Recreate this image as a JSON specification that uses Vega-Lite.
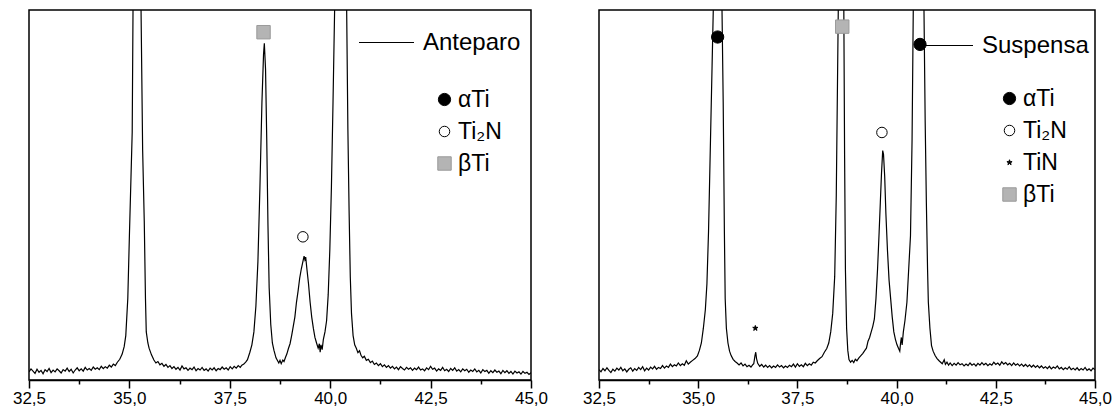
{
"$schema": "https://vega.github.io/schema/vega-lite/v6.json",
"padding": {"left": 11, "top": 9, "right": 5, "bottom": 0},
"spacing": 68,
"bounds": "flush",
"config": {
  "font": "Liberation Sans",
  "view": {"stroke": "black", "strokeWidth": 1.5},
  "legend": {"padding": 0, "titlePadding": 0, "labelColor": "black", "labelFont": "Liberation Sans", "labelFontSize": 23, "rowPadding": 8, "labelOffset": 2, "symbolStrokeWidth": 1}
},
"datasets": {
"ante": [
{"t":32.50,"i":2.2},{"t":32.55,"i":3.0},{"t":32.60,"i":2.4},{"t":32.65,"i":1.8},{"t":32.70,"i":2.9},{"t":32.75,"i":2.1},{"t":32.80,"i":2.6},{"t":32.85,"i":1.7},{"t":32.90,"i":2.8},{"t":32.95,"i":2.3},
{"t":33.00,"i":3.1},{"t":33.05,"i":2.0},{"t":33.10,"i":2.7},{"t":33.15,"i":2.2},{"t":33.20,"i":3.0},{"t":33.25,"i":2.5},{"t":33.30,"i":1.9},{"t":33.35,"i":2.8},{"t":33.40,"i":2.4},{"t":33.45,"i":3.2},
{"t":33.50,"i":2.3},{"t":33.55,"i":2.9},{"t":33.60,"i":1.9},{"t":33.65,"i":2.7},{"t":33.70,"i":3.3},{"t":33.75,"i":2.5},{"t":33.80,"i":3.0},{"t":33.85,"i":2.4},{"t":33.90,"i":3.4},{"t":33.95,"i":2.7},
{"t":34.00,"i":3.1},{"t":34.05,"i":2.6},{"t":34.10,"i":3.5},{"t":34.15,"i":2.9},{"t":34.20,"i":3.3},{"t":34.25,"i":2.8},{"t":34.30,"i":3.7},{"t":34.35,"i":3.1},{"t":34.40,"i":3.6},{"t":34.45,"i":3.2},
{"t":34.50,"i":4.0},{"t":34.55,"i":3.5},{"t":34.60,"i":4.3},{"t":34.65,"i":3.9},{"t":34.70,"i":4.8},{"t":34.76,"i":5.6},{"t":34.82,"i":7},{"t":34.87,"i":9},{"t":34.91,"i":12},{"t":34.96,"i":22},
{"t":35.00,"i":39},{"t":35.04,"i":55},{"t":35.07,"i":67},{"t":35.09,"i":100},{"t":35.19,"i":400},{"t":35.29,"i":100},{"t":35.33,"i":62},{"t":35.37,"i":43},{"t":35.40,"i":22},{"t":35.42,"i":13},
{"t":35.46,"i":10},{"t":35.49,"i":8.6},{"t":35.55,"i":6.8},{"t":35.61,"i":5.4},{"t":35.66,"i":4.6},{"t":35.71,"i":5.0},{"t":35.76,"i":4.1},{"t":35.81,"i":4.5},{"t":35.86,"i":3.7},{"t":35.91,"i":4.2},
{"t":35.96,"i":3.4},{"t":36.01,"i":3.9},{"t":36.06,"i":3.1},{"t":36.11,"i":3.6},{"t":36.16,"i":2.9},{"t":36.21,"i":3.4},{"t":36.26,"i":2.7},{"t":36.31,"i":3.8},{"t":36.36,"i":3.0},{"t":36.41,"i":3.3},
{"t":36.46,"i":2.6},{"t":36.51,"i":3.2},{"t":36.56,"i":2.8},{"t":36.61,"i":3.5},{"t":36.66,"i":2.5},{"t":36.71,"i":3.1},{"t":36.76,"i":2.7},{"t":36.81,"i":3.4},{"t":36.86,"i":2.6},{"t":36.91,"i":3.0},
{"t":36.96,"i":2.4},{"t":37.01,"i":3.2},{"t":37.06,"i":2.7},{"t":37.11,"i":3.3},{"t":37.16,"i":2.5},{"t":37.21,"i":3.1},{"t":37.26,"i":2.8},{"t":37.31,"i":3.5},{"t":37.36,"i":2.9},{"t":37.41,"i":3.3},
{"t":37.46,"i":2.7},{"t":37.51,"i":3.6},{"t":37.56,"i":3.0},{"t":37.61,"i":3.7},{"t":37.66,"i":3.2},{"t":37.71,"i":3.9},{"t":37.76,"i":3.4},{"t":37.80,"i":4.0},{"t":37.85,"i":4.3},{"t":37.90,"i":4.9},
{"t":37.94,"i":5.5},{"t":38.00,"i":7.5},{"t":38.05,"i":9.5},{"t":38.10,"i":13},{"t":38.15,"i":20},{"t":38.20,"i":32},{"t":38.25,"i":52},{"t":38.30,"i":75},{"t":38.34,"i":88},{"t":38.36,"i":91},
{"t":38.39,"i":84},{"t":38.42,"i":65},{"t":38.45,"i":42},{"t":38.48,"i":25},{"t":38.52,"i":15},{"t":38.56,"i":10},{"t":38.60,"i":8},{"t":38.65,"i":6},{"t":38.69,"i":5.2},{"t":38.72,"i":4.6},
{"t":38.75,"i":5.3},{"t":38.78,"i":4.4},{"t":38.82,"i":5.4},{"t":38.85,"i":5.0},{"t":38.89,"i":6.2},{"t":38.92,"i":7},{"t":38.96,"i":8.5},{"t":39.00,"i":9.8},{"t":39.04,"i":12},{"t":39.08,"i":14.5},
{"t":39.12,"i":17},{"t":39.16,"i":21},{"t":39.20,"i":24},{"t":39.24,"i":27.5},{"t":39.28,"i":30},{"t":39.32,"i":32},{"t":39.35,"i":33.5},{"t":39.37,"i":32.5},{"t":39.39,"i":33.2},{"t":39.42,"i":30},
{"t":39.46,"i":26},{"t":39.50,"i":21},{"t":39.54,"i":17},{"t":39.58,"i":14},{"t":39.62,"i":11.5},{"t":39.66,"i":10},{"t":39.70,"i":8.6},{"t":39.73,"i":9.8},{"t":39.75,"i":7.5},{"t":39.77,"i":9.5},
{"t":39.80,"i":8.2},{"t":39.83,"i":11},{"t":39.87,"i":13},{"t":39.91,"i":16},{"t":39.95,"i":23},{"t":39.99,"i":35},{"t":40.03,"i":52},{"t":40.07,"i":75},{"t":40.11,"i":100},{"t":40.26,"i":400},
{"t":40.41,"i":100},{"t":40.44,"i":68},{"t":40.47,"i":46},{"t":40.50,"i":28},{"t":40.53,"i":18},{"t":40.57,"i":12},{"t":40.61,"i":9.5},{"t":40.65,"i":8.6},{"t":40.69,"i":7.4},{"t":40.73,"i":7.9},
{"t":40.77,"i":6.6},{"t":40.81,"i":6.0},{"t":40.85,"i":6.4},{"t":40.90,"i":5.3},{"t":40.95,"i":5.6},{"t":41.00,"i":4.7},{"t":41.05,"i":5.1},{"t":41.10,"i":4.2},{"t":41.15,"i":4.6},{"t":41.20,"i":3.9},
{"t":41.25,"i":4.4},{"t":41.30,"i":3.6},{"t":41.35,"i":4.1},{"t":41.40,"i":3.4},{"t":41.45,"i":3.9},{"t":41.50,"i":3.2},{"t":41.55,"i":3.7},{"t":41.60,"i":3.0},{"t":41.65,"i":3.5},{"t":41.70,"i":2.8},
{"t":41.75,"i":3.6},{"t":41.80,"i":3.1},{"t":41.85,"i":2.7},{"t":41.90,"i":3.4},{"t":41.95,"i":2.9},{"t":42.00,"i":3.3},{"t":42.05,"i":2.6},{"t":42.10,"i":3.2},{"t":42.15,"i":2.8},{"t":42.20,"i":3.5},
{"t":42.25,"i":2.7},{"t":42.30,"i":3.0},{"t":42.35,"i":2.5},{"t":42.40,"i":3.3},{"t":42.45,"i":2.8},{"t":42.50,"i":3.7},{"t":42.55,"i":2.9},{"t":42.60,"i":3.2},{"t":42.65,"i":2.4},{"t":42.70,"i":3.0},
{"t":42.75,"i":2.6},{"t":42.80,"i":3.4},{"t":42.85,"i":2.5},{"t":42.90,"i":2.9},{"t":42.95,"i":2.3},{"t":43.00,"i":3.1},{"t":43.05,"i":2.6},{"t":43.10,"i":3.3},{"t":43.15,"i":2.4},{"t":43.20,"i":2.8},
{"t":43.25,"i":2.2},{"t":43.30,"i":3.0},{"t":43.35,"i":2.5},{"t":43.40,"i":2.9},{"t":43.45,"i":2.1},{"t":43.50,"i":2.7},{"t":43.55,"i":2.3},{"t":43.60,"i":3.0},{"t":43.65,"i":2.2},{"t":43.70,"i":2.6},
{"t":43.75,"i":1.9},{"t":43.80,"i":2.8},{"t":43.85,"i":2.3},{"t":43.90,"i":2.6},{"t":43.95,"i":1.8},{"t":44.00,"i":2.5},{"t":44.05,"i":2.0},{"t":44.10,"i":2.7},{"t":44.15,"i":2.1},{"t":44.20,"i":2.4},
{"t":44.25,"i":1.7},{"t":44.30,"i":2.6},{"t":44.35,"i":2.0},{"t":44.40,"i":2.5},{"t":44.45,"i":1.8},{"t":44.50,"i":2.3},{"t":44.55,"i":1.6},{"t":44.60,"i":2.4},{"t":44.65,"i":1.9},{"t":44.70,"i":2.2},
{"t":44.75,"i":1.6},{"t":44.80,"i":2.3},{"t":44.85,"i":1.8},{"t":44.90,"i":2.1},{"t":44.95,"i":1.5},{"t":45.00,"i":2.0}
],
"susp": [
{"t":32.50,"i":2.8},{"t":32.55,"i":2.2},{"t":32.60,"i":3.1},{"t":32.65,"i":2.5},{"t":32.70,"i":3.3},{"t":32.75,"i":2.6},{"t":32.80,"i":2.0},{"t":32.85,"i":2.9},{"t":32.90,"i":2.4},{"t":32.95,"i":3.2},
{"t":33.00,"i":2.7},{"t":33.05,"i":3.4},{"t":33.10,"i":2.5},{"t":33.15,"i":3.0},{"t":33.20,"i":2.2},{"t":33.25,"i":2.9},{"t":33.30,"i":3.3},{"t":33.35,"i":2.4},{"t":33.40,"i":3.1},{"t":33.45,"i":2.6},
{"t":33.50,"i":3.4},{"t":33.55,"i":2.8},{"t":33.60,"i":3.6},{"t":33.65,"i":2.5},{"t":33.70,"i":3.2},{"t":33.75,"i":2.7},{"t":33.80,"i":3.5},{"t":33.85,"i":3.0},{"t":33.90,"i":3.7},{"t":33.95,"i":2.9},
{"t":34.00,"i":3.4},{"t":34.05,"i":3.1},{"t":34.10,"i":3.9},{"t":34.15,"i":3.2},{"t":34.20,"i":3.8},{"t":34.25,"i":3.4},{"t":34.30,"i":4.3},{"t":34.35,"i":3.6},{"t":34.40,"i":4.1},{"t":34.45,"i":3.8},
{"t":34.50,"i":4.6},{"t":34.55,"i":3.9},{"t":34.60,"i":4.4},{"t":34.65,"i":4.0},{"t":34.70,"i":5.2},{"t":34.75,"i":4.3},{"t":34.80,"i":4.8},{"t":34.86,"i":5.3},{"t":34.92,"i":5.8},{"t":34.98,"i":6.5},
{"t":35.03,"i":8},{"t":35.08,"i":10},{"t":35.13,"i":14},{"t":35.18,"i":19},{"t":35.22,"i":26},{"t":35.26,"i":40},{"t":35.31,"i":65},{"t":35.35,"i":85},{"t":35.38,"i":100},{"t":35.49,"i":400},
{"t":35.60,"i":100},{"t":35.63,"i":75},{"t":35.66,"i":40},{"t":35.68,"i":22},{"t":35.71,"i":14},{"t":35.75,"i":10},{"t":35.79,"i":7.8},{"t":35.83,"i":6.6},{"t":35.88,"i":5.6},{"t":35.93,"i":5.0},
{"t":35.98,"i":4.6},{"t":36.03,"i":4.1},{"t":36.08,"i":4.6},{"t":36.13,"i":3.8},{"t":36.18,"i":4.3},{"t":36.23,"i":3.6},{"t":36.28,"i":4.0},{"t":36.33,"i":3.5},{"t":36.38,"i":4.2},{"t":36.40,"i":4.4},
{"t":36.43,"i":6.5},{"t":36.45,"i":7.5},{"t":36.47,"i":5.8},{"t":36.50,"i":4.5},{"t":36.55,"i":3.7},{"t":36.60,"i":4.2},{"t":36.65,"i":3.5},{"t":36.70,"i":4.0},{"t":36.75,"i":3.4},{"t":36.80,"i":3.9},
{"t":36.85,"i":3.3},{"t":36.90,"i":3.8},{"t":36.95,"i":3.4},{"t":37.00,"i":4.1},{"t":37.05,"i":3.5},{"t":37.10,"i":3.9},{"t":37.15,"i":3.3},{"t":37.20,"i":3.8},{"t":37.25,"i":3.4},{"t":37.30,"i":4.0},
{"t":37.35,"i":3.6},{"t":37.40,"i":4.3},{"t":37.45,"i":3.5},{"t":37.50,"i":4.4},{"t":37.55,"i":3.7},{"t":37.60,"i":4.1},{"t":37.65,"i":3.6},{"t":37.70,"i":4.5},{"t":37.75,"i":3.9},{"t":37.80,"i":4.4},
{"t":37.85,"i":4.0},{"t":37.90,"i":4.8},{"t":37.95,"i":4.6},{"t":38.00,"i":5.2},{"t":38.06,"i":5.8},{"t":38.12,"i":6.3},{"t":38.18,"i":7.5},{"t":38.24,"i":8.5},{"t":38.29,"i":10},{"t":38.34,"i":13},
{"t":38.39,"i":18},{"t":38.44,"i":28},{"t":38.48,"i":50},{"t":38.51,"i":80},{"t":38.53,"i":100},{"t":38.60,"i":350},{"t":38.67,"i":100},{"t":38.69,"i":60},{"t":38.71,"i":30},{"t":38.74,"i":14},
{"t":38.77,"i":8},{"t":38.80,"i":5.5},{"t":38.84,"i":4.8},{"t":38.88,"i":5.3},{"t":38.92,"i":4.7},{"t":38.96,"i":5.6},{"t":39.00,"i":5.2},{"t":39.05,"i":6.0},{"t":39.10,"i":6.6},{"t":39.15,"i":7.2},
{"t":39.20,"i":8.0},{"t":39.24,"i":8.6},{"t":39.28,"i":10.5},{"t":39.32,"i":11.5},{"t":39.36,"i":13},{"t":39.40,"i":14.5},{"t":39.44,"i":16.5},{"t":39.48,"i":22},{"t":39.52,"i":30},{"t":39.56,"i":40},
{"t":39.59,"i":48},{"t":39.62,"i":56},{"t":39.65,"i":62},{"t":39.67,"i":61},{"t":39.70,"i":55},{"t":39.73,"i":45},{"t":39.77,"i":35},{"t":39.81,"i":27},{"t":39.85,"i":22},{"t":39.89,"i":17},
{"t":39.93,"i":13},{"t":39.97,"i":11},{"t":40.01,"i":9.5},{"t":40.05,"i":8.5},{"t":40.08,"i":7.8},{"t":40.10,"i":10},{"t":40.12,"i":11.5},{"t":40.14,"i":9.5},{"t":40.17,"i":13},{"t":40.21,"i":16},
{"t":40.26,"i":21},{"t":40.30,"i":29},{"t":40.35,"i":39},{"t":40.39,"i":65},{"t":40.42,"i":100},{"t":40.56,"i":400},{"t":40.69,"i":100},{"t":40.72,"i":70},{"t":40.75,"i":48},{"t":40.78,"i":30},
{"t":40.80,"i":21},{"t":40.84,"i":14},{"t":40.88,"i":9.3},{"t":40.92,"i":7.8},{"t":40.97,"i":6.6},{"t":41.02,"i":5.8},{"t":41.07,"i":5.2},{"t":41.11,"i":4.8},{"t":41.15,"i":4.4},{"t":41.20,"i":5.5},
{"t":41.23,"i":4.2},{"t":41.27,"i":4.8},{"t":41.31,"i":4.0},{"t":41.35,"i":4.6},{"t":41.40,"i":3.9},{"t":41.45,"i":4.5},{"t":41.50,"i":4.0},{"t":41.55,"i":4.7},{"t":41.60,"i":4.1},{"t":41.65,"i":4.4},
{"t":41.70,"i":3.8},{"t":41.75,"i":4.3},{"t":41.80,"i":3.9},{"t":41.85,"i":4.6},{"t":41.90,"i":4.0},{"t":41.95,"i":4.4},{"t":42.00,"i":3.8},{"t":42.05,"i":4.5},{"t":42.10,"i":4.0},{"t":42.15,"i":4.7},
{"t":42.20,"i":4.1},{"t":42.25,"i":4.5},{"t":42.30,"i":3.9},{"t":42.35,"i":4.4},{"t":42.40,"i":4.0},{"t":42.45,"i":4.8},{"t":42.50,"i":4.2},{"t":42.55,"i":4.6},{"t":42.60,"i":4.0},{"t":42.65,"i":4.9},
{"t":42.70,"i":4.3},{"t":42.75,"i":4.7},{"t":42.80,"i":4.1},{"t":42.85,"i":4.5},{"t":42.90,"i":3.9},{"t":42.95,"i":4.6},{"t":43.00,"i":4.0},{"t":43.05,"i":4.4},{"t":43.10,"i":3.8},{"t":43.15,"i":4.3},
{"t":43.20,"i":3.7},{"t":43.25,"i":4.2},{"t":43.30,"i":3.6},{"t":43.35,"i":4.1},{"t":43.40,"i":3.5},{"t":43.45,"i":4.0},{"t":43.50,"i":3.4},{"t":43.55,"i":3.9},{"t":43.60,"i":3.3},{"t":43.65,"i":3.8},
{"t":43.70,"i":3.2},{"t":43.75,"i":3.6},{"t":43.80,"i":3.1},{"t":43.85,"i":3.7},{"t":43.90,"i":3.0},{"t":43.95,"i":3.5},{"t":44.00,"i":3.2},{"t":44.05,"i":3.8},{"t":44.10,"i":3.0},{"t":44.15,"i":3.4},
{"t":44.20,"i":2.8},{"t":44.25,"i":3.3},{"t":44.30,"i":2.9},{"t":44.35,"i":3.6},{"t":44.40,"i":2.8},{"t":44.45,"i":3.2},{"t":44.50,"i":2.7},{"t":44.55,"i":3.3},{"t":44.60,"i":2.6},{"t":44.65,"i":3.1},
{"t":44.70,"i":2.7},{"t":44.75,"i":3.4},{"t":44.80,"i":2.6},{"t":44.85,"i":3.0},{"t":44.90,"i":2.5},{"t":44.95,"i":3.2},{"t":45.00,"i":2.8}
],
"mA": [
{"t":38.34,"i":94,"p":"βTi"},
{"t":39.32,"i":38.7,"p":"Ti₂N"}
],
"mB": [
{"t":35.49,"i":92.7,"p":"αTi"},
{"t":40.59,"i":90.7,"p":"αTi"},
{"t":38.63,"i":95.5,"p":"βTi"},
{"t":39.63,"i":66.9,"p":"Ti₂N"},
{"t":36.44,"i":14,"p":"TiN"}
]
},
"hconcat": [
{
  "width": 502, "height": 370,
  "resolve": {"axis": {"x": "independent"}},
  "layer": [
    {
      "data": {"name": "ante"},
      "mark": {"type": "line", "clip": true, "strokeWidth": 1.2, "interpolate": "linear"},
      "encoding": {
        "x": {"field": "t", "type": "quantitative", "scale": {"domain": [32.5, 45], "nice": false, "zero": false},
              "axis": {"values": [32.5,35,37.5,40,42.5,45], "labelExpr": "replace(format(datum.value,'.1f'),'.',',')", "title": null, "grid": false,
                       "tickSize": 8, "tickWidth": 1.5, "tickColor": "black", "domainColor": "black", "domainWidth": 1.5,
                       "labelFontSize": 17, "labelColor": "black", "labelPadding": 2, "labelFlush": false, "labelOverlap": false, "orient": "bottom"}},
        "y": {"field": "i", "type": "quantitative", "scale": {"domain": [0, 100], "nice": false, "zero": false}, "axis": null},
        "color": {"datum": "Anteparo", "scale": {"range": ["black"]},
                  "legend": {"title": null, "orient": "none", "legendX": 329, "legendY": 4, "symbolType": "stroke", "symbolSize": 3025, "symbolStrokeWidth": 1.2, "labelFontSize": 24, "labelOffset": 8}}
      }
    },
    {
      "data": {"name": "mA"},
      "mark": {"type": "point", "filled": false, "opacity": 1, "strokeWidth": 1},
      "encoding": {
        "x": {"field": "t", "type": "quantitative", "scale": {"domain": [32.5, 45], "nice": false, "zero": false},
              "axis": {"values": [33.75,36.25,38.75,41.25,43.75], "labels": false, "domain": false, "title": null, "grid": false, "tickSize": 4, "tickWidth": 1.5, "tickColor": "black", "orient": "bottom"}},
        "y": {"field": "i", "type": "quantitative", "scale": {"domain": [0, 100], "nice": false, "zero": false}, "axis": null},
        "shape": {"field": "p", "type": "nominal", "scale": {"domain": ["αTi","Ti₂N","βTi"], "range": ["circle","circle","square"]},
                  "legend": {"title": null, "orient": "none", "legendX": 404, "legendY": 78}},
        "fill": {"field": "p", "type": "nominal", "scale": {"domain": ["αTi","Ti₂N","βTi"], "range": ["black","white","#b4b4b4"]},
                  "legend": {"title": null, "orient": "none", "legendX": 404, "legendY": 78}},
        "stroke": {"field": "p", "type": "nominal", "scale": {"domain": ["αTi","Ti₂N","βTi"], "range": ["black","black","#9a9a9a"]},
                  "legend": {"title": null, "orient": "none", "legendX": 404, "legendY": 78}},
        "size": {"field": "p", "type": "nominal", "scale": {"type": "ordinal", "domain": ["αTi","Ti₂N","βTi"], "range": [150, 110, 180]},
                  "legend": {"title": null, "orient": "none", "legendX": 404, "legendY": 78}}
      }
    }
  ]
},
{
  "width": 496, "height": 370,
  "resolve": {"axis": {"x": "independent"}},
  "layer": [
    {
      "data": {"name": "susp"},
      "mark": {"type": "line", "clip": true, "strokeWidth": 1.2, "interpolate": "linear"},
      "encoding": {
        "x": {"field": "t", "type": "quantitative", "scale": {"domain": [32.5, 45], "nice": false, "zero": false},
              "axis": {"values": [32.5,35,37.5,40,42.5,45], "labelExpr": "replace(format(datum.value,'.1f'),'.',',')", "title": null, "grid": false,
                       "tickSize": 8, "tickWidth": 1.5, "tickColor": "black", "domainColor": "black", "domainWidth": 1.5,
                       "labelFontSize": 17, "labelColor": "black", "labelPadding": 2, "labelFlush": false, "labelOverlap": false, "orient": "bottom"}},
        "y": {"field": "i", "type": "quantitative", "scale": {"domain": [0, 100], "nice": false, "zero": false}, "axis": null},
        "color": {"datum": "Suspensa", "scale": {"range": ["black"]},
                  "legend": {"title": null, "orient": "none", "legendX": 318, "legendY": 7, "symbolType": "stroke", "symbolSize": 3025, "symbolStrokeWidth": 1.2, "labelFontSize": 24, "labelOffset": 8}}
      }
    },
    {
      "data": {"name": "mB"},
      "mark": {"type": "point", "filled": false, "opacity": 1, "strokeWidth": 1},
      "encoding": {
        "x": {"field": "t", "type": "quantitative", "scale": {"domain": [32.5, 45], "nice": false, "zero": false},
              "axis": {"values": [33.75,36.25,38.75,41.25,43.75], "labels": false, "domain": false, "title": null, "grid": false, "tickSize": 4, "tickWidth": 1.5, "tickColor": "black", "orient": "bottom"}},
        "y": {"field": "i", "type": "quantitative", "scale": {"domain": [0, 100], "nice": false, "zero": false}, "axis": null},
        "shape": {"field": "p", "type": "nominal", "scale": {"domain": ["αTi","Ti₂N","TiN","βTi"], "range": ["circle","circle","M0,-1L0.224,-0.309L0.951,-0.309L0.363,0.118L0.588,0.809L0,0.382L-0.588,0.809L-0.363,0.118L-0.951,-0.309L-0.224,-0.309Z","square"]},
                  "legend": {"title": null, "orient": "none", "legendX": 399, "legendY": 77}},
        "fill": {"field": "p", "type": "nominal", "scale": {"domain": ["αTi","Ti₂N","TiN","βTi"], "range": ["black","white","black","#b4b4b4"]},
                  "legend": {"title": null, "orient": "none", "legendX": 399, "legendY": 77}},
        "stroke": {"field": "p", "type": "nominal", "scale": {"domain": ["αTi","Ti₂N","TiN","βTi"], "range": ["black","black","black","#9a9a9a"]},
                  "legend": {"title": null, "orient": "none", "legendX": 399, "legendY": 77}},
        "size": {"field": "p", "type": "nominal", "scale": {"type": "ordinal", "domain": ["αTi","Ti₂N","TiN","βTi"], "range": [150, 110, 30, 180]},
                  "legend": {"title": null, "orient": "none", "legendX": 399, "legendY": 77}}
      }
    }
  ]
}
],
"resolve": {
  "scale": {"x": "independent", "y": "independent", "color": "independent", "shape": "independent", "fill": "independent", "stroke": "independent", "size": "independent"},
  "legend": {"color": "independent", "shape": "independent", "fill": "independent", "stroke": "independent", "size": "independent"}
}
}
